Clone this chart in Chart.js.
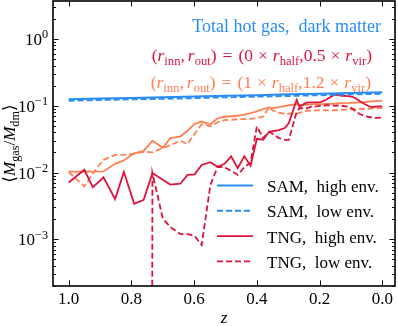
<!DOCTYPE html>
<html>
<head>
<meta charset="utf-8">
<script src="https://cdn.jsdelivr.net/npm/chart.js@4.4.0/dist/chart.umd.min.js"></script>
<style>
  html, body { margin: 0; padding: 0; background: #fff; }
  #wrap { width: 398px; height: 326px; }
</style>
</head>
<body>
<div id="wrap"><canvas id="grafico"></canvas></div>
<script>
// redshifts of the TNG snapshots (50 -> 99)
const zTng = [1.0, 0.95, 0.923, 0.889, 0.852, 0.824, 0.791, 0.761, 0.733, 0.70,
  0.676, 0.644, 0.621, 0.598, 0.576, 0.548, 0.525, 0.503, 0.482, 0.461,
  0.44, 0.42, 0.40, 0.38, 0.361, 0.35, 0.33, 0.311, 0.298, 0.273,
  0.264, 0.242, 0.226, 0.211, 0.197, 0.179, 0.164, 0.151, 0.137, 0.13,
  0.108, 0.095, 0.083, 0.07, 0.058, 0.046, 0.034, 0.023, 0.011, 0.0];

// TNG, (0 r_half, 0.5 r_vir)
const tngHighIn = [0.0071, 0.011, 0.0060, 0.0085, 0.0040, 0.0102, 0.0034, 0.0039, 0.0098, 0.0078,
  0.0066, 0.0068, 0.0092, 0.0094, 0.0130, 0.0143, 0.0122, 0.0135, 0.0175, 0.0116,
  0.0175, 0.0126, 0.032, 0.031, 0.0407, 0.0415, 0.043, 0.0463, 0.055, 0.123,
  0.0966, 0.111, 0.112, 0.112, 0.113, 0.123, 0.136, 0.146, 0.144, 0.141,
  0.139, 0.136, 0.127, 0.116, 0.107, 0.100, 0.0956, 0.0966, 0.0976, 0.098];
const tngLowIn = [0, 0, 0, 0, 0, 0, 0, 0, 0.0098, 0.00206,
  0.00153, 0.0012, 0.0012, 0.00112, 0.00082, 0.00654, 0.0122, 0.0120, 0.0106, 0.0092,
  0.0120, 0.0140, 0.049, 0.0328, 0.0407, 0.038, 0.0328, 0.0309, 0.0309, 0.0813,
  0.0917, 0.0917, 0.0966, 0.0976, 0.100, 0.1017, 0.101, 0.100, 0.1017, 0.100,
  0.0966, 0.0902, 0.0813, 0.0746, 0.0708, 0.0684, 0.0672, 0.066, 0.066, 0.0672];

// TNG, (1 r_half, 1.2 r_vir)
const tngHighOut = [0.01035, 0.01035, 0.01035, 0.0104, 0.0135, 0.0152, 0.0194, 0.0211, 0.0299, 0.0235,
  0.0328, 0.0346, 0.0422, 0.0537, 0.058, 0.0528, 0.065, 0.0684, 0.0696, 0.0708,
  0.0738, 0.0772, 0.0822, 0.0887, 0.0943, 0.0917, 0.095, 0.099, 0.1017, 0.1053,
  0.1042, 0.1035, 0.105, 0.1057, 0.106, 0.1064, 0.107, 0.1079, 0.109, 0.1094,
  0.1101, 0.1109, 0.1117, 0.1125, 0.1136, 0.1148, 0.116, 0.1172, 0.118, 0.1188];
const tngLowOut = [0.0102, 0.0062, 0.0097, 0.0155, 0.0184, 0.0184, 0.0191, 0.0204, 0.0201, 0.0231,
  0.0256, 0.0299, 0.0267, 0.038, 0.0528, 0.0493, 0.0566, 0.0607, 0.0617, 0.0628,
  0.0632, 0.0638, 0.065, 0.0691, 0.095, 0.0856, 0.0785, 0.0759, 0.0759, 0.0764,
  0.0785, 0.0841, 0.0847, 0.085, 0.0856, 0.085, 0.085, 0.0856, 0.0871, 0.0871,
  0.0877, 0.0886, 0.0893, 0.0896, 0.0896, 0.0902, 0.0908, 0.0914, 0.092, 0.0923];

// SAM, total hot gas
const zSam = [1.0, 0.9, 0.8, 0.7, 0.6, 0.5, 0.4, 0.3, 0.2, 0.1, 0.0];
const samHigh = [0.125, 0.128, 0.131, 0.134, 0.137, 0.141, 0.144, 0.148, 0.151, 0.155, 0.159];
const samLow = [0.119, 0.122, 0.125, 0.127, 0.130, 0.134, 0.137, 0.140, 0.144, 0.148, 0.151];

const xTicks = [1.0, 0.8, 0.6, 0.4, 0.2, 0.0];
const xTickLabels = ["1.0", "0.8", "0.6", "0.4", "0.2", "0.0"];
const yTicks = [1, 0.1, 0.01, 0.001];
const yTickExp = ["0", "\u22121", "\u22122", "\u22123"];

const AZUL = "#2a8df5";
const VERMELHO = "#dc143c";
const LARANJA = "#ff8052";
const FONTE = '"Liberation Serif", "DejaVu Serif", serif';

// 0 on a log axis -> pushed far below the frame (like matplotlib clipping)
const pts = (zs, vs) => zs.map((z, i) => ({ x: z, y: vs[i] === 0 ? 1e-100 : vs[i] }));

const legendItems = ["SAM, high env.", "SAM, low env.", "TNG, high env.", "TNG, low env."];

// parts: [texto, tipo]  n = normal, i = itálico, b = subscrito, p = sobrescrito, s = espaço (px)
function richText(ctx, parts, x, y, align, size, color) {
  const fontOf = k => (k === "i" ? "italic " : "") + ((k === "b" || k === "p") ? size * 0.72 : size) + "px " + FONTE;
  const larg = ([t, k]) => { if (k === "s") return t; ctx.font = fontOf(k); return ctx.measureText(t).width; };
  let w = 0;
  parts.forEach(p => { w += larg(p); });
  let cx = align === "right" ? x - w : align === "center" ? x - w / 2 : x;
  ctx.fillStyle = color;
  ctx.textBaseline = "alphabetic";
  ctx.textAlign = "left";
  parts.forEach(p => {
    const [t, k] = p;
    if (k !== "s") {
      ctx.font = fontOf(k);
      const dy = k === "b" ? size * 0.22 : k === "p" ? -size * 0.4 : 0;
      ctx.fillText(t, cx, y + dy);
    }
    cx += larg(p);
  });
}

function raios(a, b) {
  return [["(", "n"], ["r", "i"], ["inn", "b"], [",", "n"], [3, "s"], ["r", "i"], ["out", "b"], [")", "n"],
    [6, "s"], ["=", "n"], [6, "s"], ["(" + a, "n"], [5, "s"], ["\u00D7", "n"], [5, "s"],
    ["r", "i"], ["half", "b"], ["," + b, "n"], [5, "s"], ["\u00D7", "n"], [5, "s"], ["r", "i"], ["vir", "b"], [")", "n"]];
}

const moldura = {
  id: "moldura",
  afterDraw(chart) {
    const { ctx, chartArea: a, scales: { x, y } } = chart;
    ctx.save();
    // ticks pointing inwards on all 4 sides
    ctx.strokeStyle = "#000";
    ctx.lineWidth = 1;
    ctx.beginPath();
    xTicks.forEach(v => {
      const px = Math.round(x.getPixelForValue(v)) + 0.5;
      ctx.moveTo(px, a.bottom); ctx.lineTo(px, a.bottom - 5.5);
      ctx.moveTo(px, a.top); ctx.lineTo(px, a.top + 5.5);
    });
    for (let e = -4; e <= 0; e++) {
      for (let m = 1; m <= 9; m++) {
        const v = m * Math.pow(10, e);
        if (v < y.min || v > y.max) continue;
        const py = Math.round(y.getPixelForValue(v)) + 0.5;
        const len = m === 1 ? 5.5 : 3;
        ctx.moveTo(a.left, py); ctx.lineTo(a.left + len, py);
        ctx.moveTo(a.right, py); ctx.lineTo(a.right - len, py);
      }
    }
    ctx.stroke();
    ctx.lineWidth = 1.6;
    ctx.strokeRect(a.left, a.top, a.right - a.left, a.bottom - a.top);

    // tick labels
    ctx.fillStyle = "#000";
    ctx.font = "17px " + FONTE;
    ctx.textAlign = "center";
    ctx.textBaseline = "alphabetic";
    xTicks.forEach((v, i) => ctx.fillText(xTickLabels[i], x.getPixelForValue(v), 304));
    yTicks.forEach((v, i) => {
      richText(ctx, [["10", "n"], [yTickExp[i], "p"]], 48, y.getPixelForValue(v) + 6, "right", 17, "#000");
    });

    // axis labels
    richText(ctx, [["z", "i"]], (a.left + a.right) / 2, 323, "center", 17, "#000");
    ctx.save();
    ctx.translate(15, (a.top + a.bottom) / 2);
    ctx.rotate(-Math.PI / 2);
    richText(ctx, [["\u27E8", "n"], ["M", "i"], ["gas", "b"], ["/", "n"], ["M", "i"], ["dm", "b"], ["\u27E9", "n"]], 0, 0, "center", 17, "#000");
    ctx.restore();

    // annotations
    richText(ctx, [["Total hot gas,  dark matter", "n"]], 381, 32, "right", 18, AZUL);
    richText(ctx, raios("0", "0.5"), 372, 61, "right", 17.5, VERMELHO);
    richText(ctx, raios("1", "1.2"), 371, 88, "right", 17.5, LARANJA);

    // legend (no frame)
    legendItems.forEach((lab, i) => {
      const ds = chart.data.datasets.find(d => d.label === lab);
      const yy = 185.5 + i * 25.3;
      ctx.strokeStyle = ds.borderColor;
      ctx.lineWidth = ds.borderWidth;
      ctx.setLineDash(ds.borderDash || []);
      ctx.beginPath();
      ctx.moveTo(217, yy); ctx.lineTo(253, yy);
      ctx.stroke();
      ctx.setLineDash([]);
      richText(ctx, [[lab.replace(", ", ",  "), "n"]], 267, yy + 6.5, "left", 17, "#000");
    });
    ctx.restore();
  }
};

const ctx = document.getElementById("grafico").getContext("2d");
const chart = new Chart(ctx, {
  type: "line",
  data: {
    datasets: [
      { label: "SAM, low env.", data: pts(zSam, samLow), borderColor: AZUL, borderWidth: 2, borderDash: [6, 3] },
      { label: "SAM, high env.", data: pts(zSam, samHigh), borderColor: AZUL, borderWidth: 2 },
      { label: "TNG, low env.", data: pts(zTng, tngLowIn), borderColor: VERMELHO, borderWidth: 1.8, borderDash: [6, 3] },
      { label: "TNG, high env.", data: pts(zTng, tngHighIn), borderColor: VERMELHO, borderWidth: 1.8 },
      { label: "TNG out, low env.", data: pts(zTng, tngLowOut), borderColor: LARANJA, borderWidth: 1.8, borderDash: [6, 3] },
      { label: "TNG out, high env.", data: pts(zTng, tngHighOut), borderColor: LARANJA, borderWidth: 1.8 },
    ],
  },
  options: {
    responsive: true,
    maintainAspectRatio: false,
    animation: false,
    devicePixelRatio: 1,
    layout: { padding: { top: 1, right: 3, left: 0, bottom: 0 } },
    elements: { point: { radius: 0 }, line: { tension: 0 } },
    scales: {
      x: {
        type: "linear", reverse: true, min: -0.0405, max: 1.05,
        ticks: { display: false }, grid: { display: false }, border: { display: false },
        afterFit: s => { s.height = 40; },
      },
      y: {
        type: "logarithmic", min: 2e-4, max: 3.7,
        ticks: { display: false }, grid: { display: false }, border: { display: false },
        afterFit: s => { s.width = 53; },
      },
    },
    plugins: { legend: { display: false }, tooltip: { enabled: false } },
  },
  plugins: [moldura],
});
</script>
</body>
</html>
